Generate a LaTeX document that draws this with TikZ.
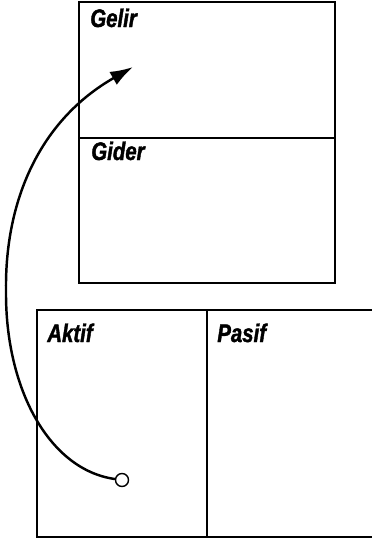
\documentclass[tikz,border=0pt]{standalone}
\usepackage{fontspec}
\newfontfamily\kutufont{Liberation Sans}[FakeStretch=0.8, FakeBold=1.5]
\usetikzlibrary{arrows.meta}

\tikzset{
  kutu/.style={line width=1pt},
  baslik/.style={anchor=base west, inner sep=0pt, font=\kutufont\bfseries\itshape\fontsize{14.5}{16}\selectfont}
}

\begin{document}
\begin{tikzpicture}[x=0.02cm, y=-0.02cm]
  \useasboundingbox (0,0) rectangle (372,542);

  % gelir tablosu
  \draw[kutu] (79,2) rectangle (335,283);
  \draw[kutu] (79,138)--(335,138);
  \node[baslik] (gelir) at (90,27) {Gelir};
  \node[baslik] (gider) at (91,160) {Gider};

  % bilanco
  \draw[kutu] (372,310)--(37,310)--(37,537)--(372,537);
  \draw[kutu] (207,310)--(207,537);
  \node[baslik] (aktif) at (47,342) {Aktif};
  \node[baslik] (pasif) at (217,342) {Pasif};

  % aktarma oku
  \node[circle, draw, fill=white, line width=0.8pt, minimum size=7.4pt, inner sep=0pt] (halka) at (122,480) {};
  \coordinate (uc) at (133,67);
  \draw[line width=1.4pt, -{Latex[length=13pt, width=8.5pt]}]
    (halka) .. controls (50,470) and (5,390) .. (6,290)
            .. controls (5,200) and (40,120) .. (uc);
\end{tikzpicture}
\end{document}
